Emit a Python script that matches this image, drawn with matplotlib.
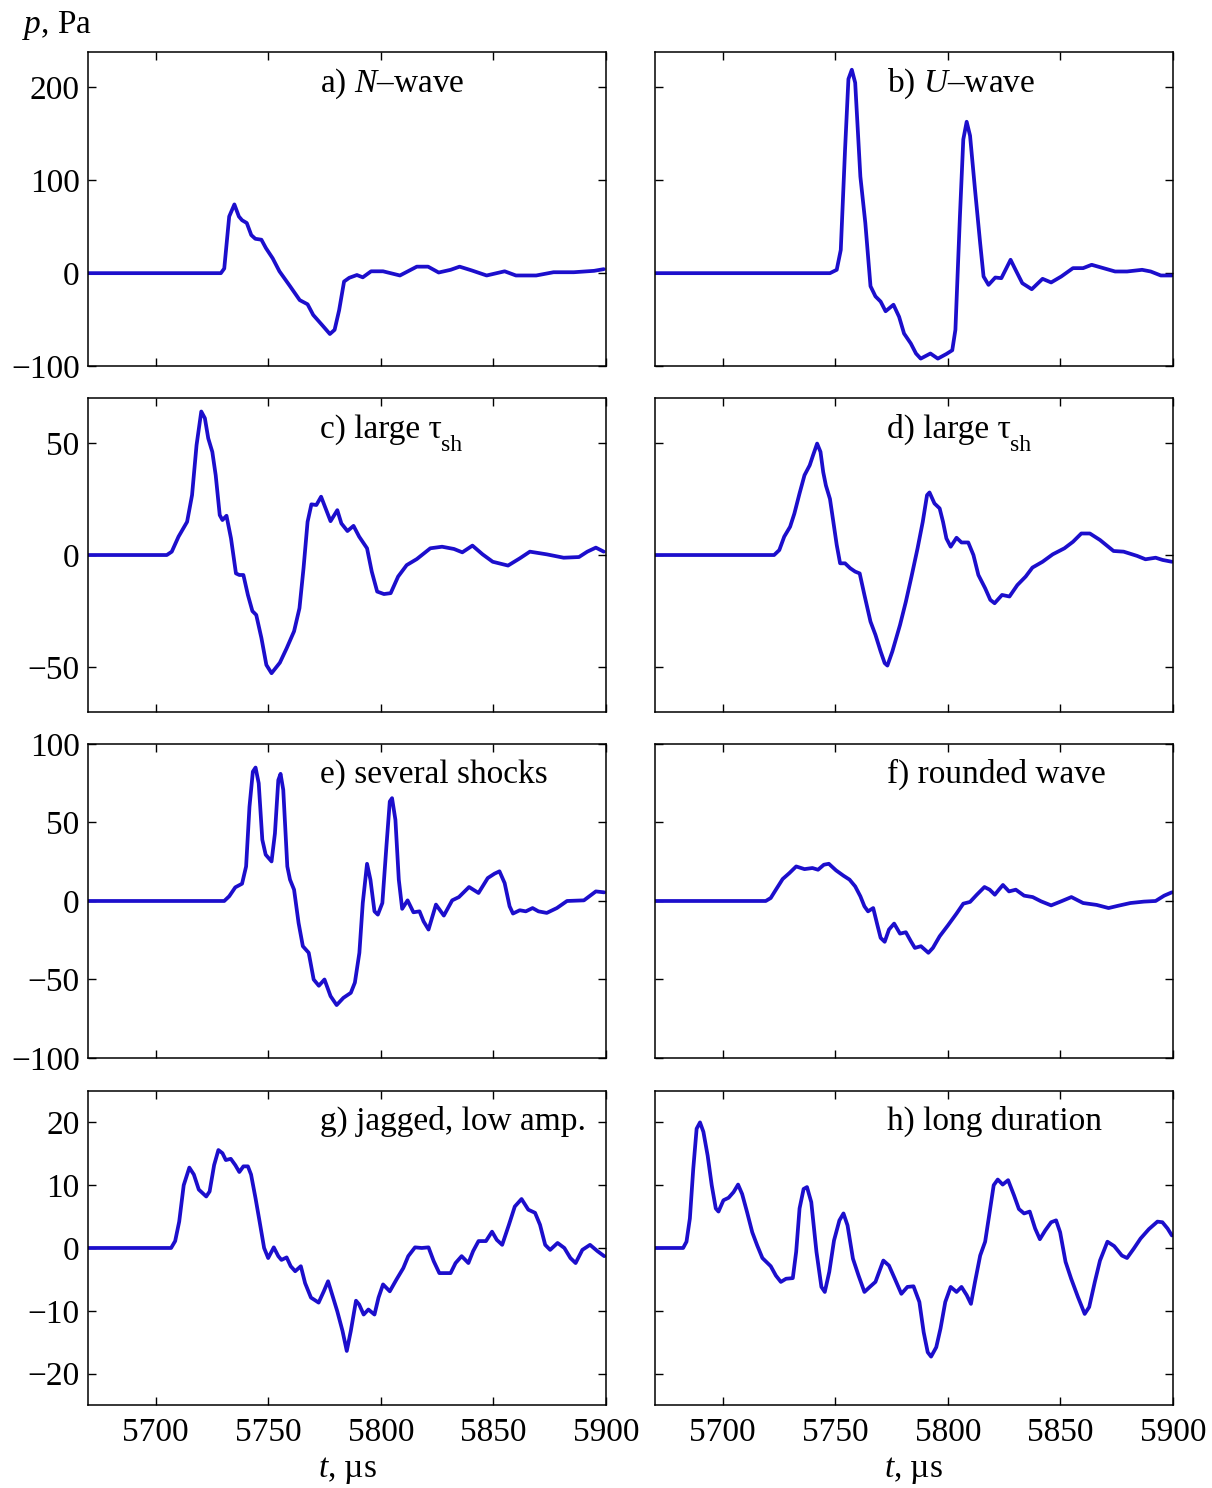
import matplotlib
matplotlib.use("Agg")
import matplotlib.pyplot as plt
from matplotlib.transforms import offset_copy

plt.rcParams['font.family'] = 'Liberation Serif'
plt.rcParams['mathtext.fontset'] = 'custom'
plt.rcParams['mathtext.rm'] = 'Liberation Serif'
plt.rcParams['mathtext.it'] = 'Liberation Serif:italic'
plt.rcParams['font.size'] = 24

# --- waveforms (t in microseconds, p in Pa) ---
a_t = [5670, 5729, 5730.5, 5732.7, 5735, 5737, 5738.4, 5740.5, 5742.5, 5744.3, 5747, 5749, 5752, 5755,
       5759.7, 5764, 5767.5, 5770, 5774, 5777.4, 5779.5, 5781.5, 5783.7, 5786, 5789.4, 5792, 5795.7, 5801,
       5808.5, 5816, 5821, 5825.7, 5831, 5835, 5840.3, 5847, 5855, 5860, 5869, 5876.7, 5885.7, 5894.7, 5899]
a_p = [0, 0, 5, 61, 74, 61, 57, 54, 41, 37, 36, 27, 16, 2,
       -14, -29, -33.5, -45, -56, -65.5, -61, -40, -9, -5, -2, -4.5, 2, 2,
       -2.5, 7, 7, 0.7, 3.6, 7, 3, -2.5, 2, -2.5, -2.5, 1, 1, 2.5, 4.3]

b_t = [5670, 5747.7, 5750.7, 5752.5, 5754.4, 5755.9, 5757.4, 5758.9, 5761.2, 5763.4, 5765.7, 5767.9, 5770.2,
       5772.4, 5775.9, 5778.4, 5780.6, 5783.6, 5785.9, 5788, 5792.3, 5795.6, 5799.4, 5802, 5803.4, 5805.4,
       5806.9, 5808.4, 5809.9, 5812.1, 5814.4, 5815.9, 5818.1, 5821.1, 5823.8, 5827.9, 5830.1, 5833.1, 5837.3,
       5842.1, 5845.9, 5850.4, 5855.6, 5860.1, 5863.9, 5869.1, 5874.3, 5879.6, 5886.3, 5890.1, 5894.6, 5899.5]
b_p = [0, 0, 3.6, 25, 133, 209, 219, 205, 104, 54, -14, -25, -30.6,
       -41, -34, -47, -65, -75.7, -86.5, -92, -86.5, -92, -87, -83, -61, 61,
       144, 163, 148, 90, 32, -3.6, -12.6, -4.7, -5.4, 14.4, 3.6, -10.8, -17.3,
       -6.1, -10, -3.6, 5.4, 5.4, 9, 5.4, 1.8, 1.8, 3.6, 1.8, -2.5, -2.5]

c_t = [5670, 5705, 5707.2, 5710.2, 5714, 5716.2, 5718.2, 5720.3, 5721.9, 5723.4, 5725.2, 5726.7, 5728.5,
       5729.7, 5731.5, 5733.5, 5735.7, 5737.2, 5739, 5741, 5743, 5744.7, 5747, 5749.2, 5751.5, 5755.2,
       5758.2, 5761.5, 5763.9, 5765.7, 5767.5, 5769.2, 5771.4, 5773.5, 5775.5, 5777.7, 5780.7, 5782.5,
       5785.2, 5787.9, 5790.4, 5793.9, 5796, 5798.4, 5801.4, 5804.4, 5807.7, 5811.5, 5816, 5822, 5827.2,
       5832.5, 5836.2, 5840.7, 5845.2, 5849.7, 5856.5, 5861.7, 5866.2, 5873.7, 5881.2, 5888, 5891.7,
       5895.5, 5899]
c_p = [0, 0, 1.5, 8.2, 14.8, 26.7, 49, 64, 61, 52, 46, 35.6, 17.8,
       15.6, 17.5, 7.4, -8.2, -8.9, -8.9, -17.8, -25, -26.7, -37, -49, -52.7, -48,
       -41.6, -34, -23.7, -5.9, 14.8, 22.6, 22.3, 26, 20.8, 15.1, 20, 14.1,
       10.7, 13, 8.2, 3, -7.4, -16.3, -17.4, -17, -9.6, -4.5, -1.8, 3, 3.7,
       2.7, 1.2, 4.2, 0.3, -3, -4.7, -1.5, 1.5, 0.3, -1.2, -0.9, 1.5,
       3.3, 1.5]

d_t = [5670, 5722.9, 5725.2, 5727.4, 5730, 5731.9, 5734.2, 5736.4, 5738.7, 5740.2, 5742, 5743.5, 5744.7,
       5745.9, 5747.7, 5749.2, 5750.7, 5752.2, 5754.4, 5756.7, 5758.9, 5760.9, 5763, 5765.7, 5767.9,
       5770.2, 5772, 5773.2, 5775.4, 5778.8, 5781.4, 5783.9, 5786.6, 5788.9, 5790.8, 5791.9, 5794.1,
       5796.4, 5797.9, 5799.4, 5801.3, 5803.9, 5806.1, 5809.1, 5811.4, 5813.6, 5816.6, 5818.9, 5820.8,
       5824.1, 5827.4, 5830.9, 5834.6, 5837.6, 5842.1, 5846.6, 5851.8, 5855.6, 5859.3, 5863.1, 5867.6,
       5873.6, 5878.1, 5884.1, 5887.8, 5892.3, 5895.4, 5899.5]
d_p = [0, 0, 2.2, 8.2, 12.6, 18.5, 27.5, 35.6, 40, 44.5, 49.7, 46, 37,
       31, 25, 14.8, 4.5, -3.7, -3.7, -5.9, -7.4, -8.2, -17.8, -29.7, -35.6,
       -43, -48.2, -49.3, -43, -31.2, -20.8, -9.6, 3, 14.8, 26.7, 27.9, 23,
       20.8, 14.8, 7.4, 3.7, 7.7, 5.6, 5.6, 0, -8.9, -14.8, -20, -21.5,
       -17.8, -18.5, -13.4, -9.6, -5.6, -3, 0.3, 3, 5.9, 9.6, 9.6, 6.7,
       1.8, 1.5, -0.4, -1.9, -1.2, -2.2, -3]

e_t = [5670, 5730.5, 5732.7, 5735.4, 5738.4, 5740.2, 5741.7, 5743.2, 5744.4, 5745.8, 5747.4, 5748.9,
       5751.5, 5753, 5754.5, 5755.5, 5756.7, 5758.5, 5759.7, 5761.5, 5763.5, 5765.4, 5768, 5770.2, 5772.5,
       5775, 5777.7, 5780.4, 5783.4, 5786.7, 5788.5, 5790.5, 5792, 5793.9, 5795.4, 5797.2, 5798.7, 5800.7,
       5802.5, 5804, 5805, 5806.5, 5808, 5809.5, 5811.9, 5814.5, 5817.2, 5819, 5821.2, 5824.5, 5828,
       5831.7, 5834.7, 5839.2, 5843.4, 5847.5, 5850.5, 5852.7, 5855, 5857.2, 5858.7, 5861.7, 5864.4,
       5867.4, 5870, 5873.7, 5878.2, 5882.7, 5890.2, 5895.5, 5899.2]
e_p = [0, 0, 3, 8.7, 11, 22, 60, 82.4, 85, 75, 39, 29.5,
       25.2, 43, 77, 81, 70.8, 22, 13.6, 7.2, -14, -28.8, -33, -50, -54,
       -50, -60.6, -66.3, -61.7, -58.5, -52, -33, -1.3, 23.7, 13.6, -6.6, -8.7, -1.3,
       34.8, 63.4, 65.5, 51.7, 13.6, -5, 0.4, -7.2, -6.6, -13, -18.2, -2.3, -9.3,
       0.4, 2.5, 8.9, 5.1, 14.6, 17.4, 18.9, 11.4, -3.4, -8, -5.9, -6.6,
       -4.5, -6.6, -7.6, -4.5, 0, 0.4, 6.1, 5.5]

f_t = [5670, 5719.2, 5721.4, 5723.7, 5726.7, 5729.7, 5732.7, 5736.4, 5739.9, 5742.4, 5745, 5747.2,
       5750.4, 5753.7, 5756.4, 5758.9, 5761.2, 5763, 5764.6, 5766.9, 5768.7, 5770.2, 5772, 5773.9,
       5776.2, 5778.8, 5781.4, 5783.6, 5785.4, 5788.1, 5791.4, 5793.4, 5796.4, 5800.1, 5803.9, 5806.9,
       5809.9, 5812.9, 5816.3, 5818.6, 5820.9, 5822.7, 5824.5, 5827.2, 5830.2, 5833.9, 5837.7, 5841.4,
       5845.9, 5850.4, 5854.9, 5860.1, 5866.1, 5871.4, 5875.8, 5881.1, 5887.1, 5892.3, 5896.1, 5899.5]
f_p = [0, 0, 1.9, 7.2, 14, 17.8, 22, 20.3, 21, 19.9, 23.1, 23.7,
       19.5, 16.1, 13.6, 9.3, 3, -3.4, -6.6, -4.5, -15, -23.5, -26, -18.2,
       -14.4, -20.8, -19.9, -25.6, -29.9, -28.8, -33, -29.9, -22.5, -15.5, -8, -1.7,
       -0.6, 4, 8.9, 7.2, 4, 7.2, 10.2, 6.1, 7.2, 3.4, 2.5, -0.2,
       -2.8, -0.2, 2.5, -1.3, -2.5, -4.5, -3, -1.3, -0.4, 0, 3.4, 5.5]

g_t = [5670, 5706.9, 5708.7, 5710.5, 5712.5, 5715, 5717, 5719.2, 5722.5, 5724, 5726, 5727.9, 5729.7,
       5731.2, 5733.4, 5735.4, 5737.2, 5739, 5741, 5742.4, 5744.4, 5746.2, 5748.2, 5750, 5752.5, 5754.5,
       5755.9, 5758.2, 5760, 5762, 5764.5, 5766.4, 5769, 5772.4, 5774.7, 5776.6, 5778.4, 5780.7, 5783,
       5784.9, 5786.7, 5789, 5790.4, 5792.4, 5794.5, 5797.2, 5799, 5801, 5804, 5807, 5810, 5812.2,
       5815.2, 5818.2, 5821.2, 5823.5, 5826, 5831, 5833.2, 5835.9, 5838.9, 5841, 5843.4, 5846.7, 5849.4,
       5851.5, 5853.9, 5856.9, 5859.5, 5862.5, 5865.5, 5868.5, 5870.7, 5873, 5875.2, 5878.5, 5881.5,
       5884.2, 5886.5, 5889.5, 5892.9, 5896.2, 5899.2]
g_p = [0, 0, 1.1, 4.2, 10, 12.8, 11.7, 9.3, 8.2, 9, 13.2, 15.6, 15.1,
       14, 14.2, 13.2, 12.1, 13, 13, 11.7, 7.9, 4.2, 0, -1.6, 0.1, -1.3,
       -1.9, -1.5, -2.9, -3.7, -2.9, -5.6, -7.9, -8.7, -6.9, -5.3, -7.4, -10.1, -13.2,
       -16.4, -13.2, -8.4, -9, -10.6, -9.8, -10.6, -7.9, -5.8, -6.9, -5, -3.2, -1.3,
       0.1, 0, 0.1, -2.1, -4, -4, -2.4, -1.3, -2.4, -0.5, 1.1, 1.1, 2.6,
       1.3, 0.5, 3.7, 6.6, 7.8, 6.1, 5.6, 3.7, 0.5, -0.3, 0.8, 0,
       -1.6, -2.4, -0.3, 0.5, -0.5, -1.3]

h_t = [5670, 5682.5, 5684, 5685.5, 5687, 5688.5, 5690, 5691.5, 5693.4, 5695.2, 5697, 5698.2, 5700.4,
       5702.7, 5704.9, 5706.9, 5708.7, 5710.9, 5713.2, 5715.4, 5717.7, 5721.4, 5723.7, 5725.9, 5728.2,
       5731.2, 5732.7, 5734.2, 5736, 5737.5, 5739.4, 5741.7, 5743.9, 5745.4, 5747.4, 5749.5, 5751.9,
       5753.7, 5755.5, 5757.9, 5760.4, 5763, 5765.4, 5767.9, 5771.4, 5773.9, 5776.5, 5779.4, 5782.1,
       5784.8, 5787.4, 5789.3, 5791.1, 5792.6, 5794.9, 5796.8, 5798.9, 5801.3, 5803.9, 5806.1, 5808.4,
       5810.3, 5812.1, 5814.4, 5816.6, 5818.6, 5820.4, 5822.2, 5824.4, 5826.8, 5829.4, 5831.6, 5833.9,
       5836.4, 5838.8, 5840.9, 5843.3, 5845.9, 5848.1, 5849.9, 5852.3, 5854.8, 5857.8, 5860.8, 5862.8,
       5865.3, 5867.6, 5870.9, 5873.9, 5877.3, 5879.6, 5882.6, 5885.6, 5889.3, 5893.1, 5895.3, 5897.6,
       5899.5]
h_p = [0, 0, 1, 4.7, 12.6, 19, 20, 18.5, 14.7, 10, 6.3, 5.8, 7.6,
       8, 8.9, 10.1, 8.6, 5.7, 2.5, 0.4, -1.6, -2.9, -4.4, -5.4, -4.9,
       -4.8, -0.6, 6.3, 9.4, 9.7, 7.3, -0.6, -6.2, -7, -3.8, 1.2, 4.4,
       5.5, 3.6, -1.7, -4.4, -7, -6.2, -5.4, -2, -2.8, -4.9, -7.3, -6.2,
       -6.1, -8.6, -13.4, -16.6, -17.3, -15.8, -12.8, -8.6, -6.2, -7, -6.2, -7.5,
       -8.9, -5.4, -1.2, 1, 5.7, 10, 10.9, 10.1, 10.8, 8.4, 6.2, 5.5,
       5.8, 3.1, 1.4, 2.8, 4.1, 4.4, 2.5, -2.2, -4.9, -7.8, -10.5, -9.4,
       -5.4, -2, 1, 0.3, -1.2, -1.6, -0.1, 1.5, 3, 4.2, 4.1, 3.1,
       2]

panel_labels = ['a) $\\mathit{N}$\u2013wave', 'b) $\\mathit{U}$\u2013wave',
                'c) large \u03c4', 'd) large \u03c4',
                'e) several shocks', 'f) rounded wave',
                'g) jagged, low amp.', 'h) long duration']
panel_subs = ['', '', 'sh', 'sh', '', '', '', '']
row_ylims = [(-100, 238), (-70, 70), (-100, 100), (-25, 25)]
row_yticks = [[-100, 0, 100, 200], [-50, 0, 50], [-100, -50, 0, 50, 100], [-20, -10, 0, 10, 20]]
xticks = [5700, 5750, 5800, 5850, 5900]

series = [(a_t, a_p), (b_t, b_p), (c_t, c_p), (d_t, d_p),
          (e_t, e_p), (f_t, f_p), (g_t, g_p), (h_t, h_p)]

fig = plt.figure(figsize=(12.12, 14.88), dpi=100)
lefts = [0.0726, 0.5404]
bottoms = [0.7540, 0.5215, 0.2890, 0.0558]
W, H = 0.4274, 0.2110
line_color = '#1c0ecc'

renderer = fig.canvas.get_renderer()
for i, (t, p) in enumerate(series):
    row, col = divmod(i, 2)
    ax = fig.add_axes([lefts[col], bottoms[row], W, H])
    ax.plot(t, p, color=line_color, lw=2.7, solid_joinstyle='round', solid_capstyle='round')
    ax.set_xlim(5670, 5899)
    ax.set_ylim(*row_ylims[row])
    ax.set_xticks(xticks)
    ax.set_yticks(row_yticks[row])
    ax.tick_params(direction='in', top=True, right=True, length=6, width=1,
                   labelsize=24, pad=9)
    ax.tick_params(axis='y', pad=6)
    if col == 1:
        ax.set_yticklabels([])
    if row < 3:
        ax.set_xticklabels([])
    for s in ax.spines.values():
        s.set_linewidth(1.1)
    txt = ax.text(0.448, 0.875, panel_labels[i], transform=ax.transAxes,
                  fontsize=24, ha='left', va='baseline')
    if panel_subs[i]:
        # subscript set as its own, lower and smaller text after the tau
        bb = txt.get_window_extent(renderer=renderer)
        x_end = ax.transAxes.inverted().transform((bb.x1, bb.y0))[0]
        ax.text(x_end, 0.875, panel_subs[i], fontsize=17, ha='left', va='baseline',
                transform=offset_copy(ax.transAxes, fig=fig, x=-0.5, y=-10, units='points'))

fig.text(0.018, 0.983, '$\\mathit{p}$, Pa', fontsize=24, ha='left', va='center')
for col in range(2):
    fig.text(lefts[col] + W / 2, 0.0115, '$\\mathit{t}$, \u00b5s', fontsize=24,
             ha='center', va='center')

fig.savefig('out.png', dpi=100)
